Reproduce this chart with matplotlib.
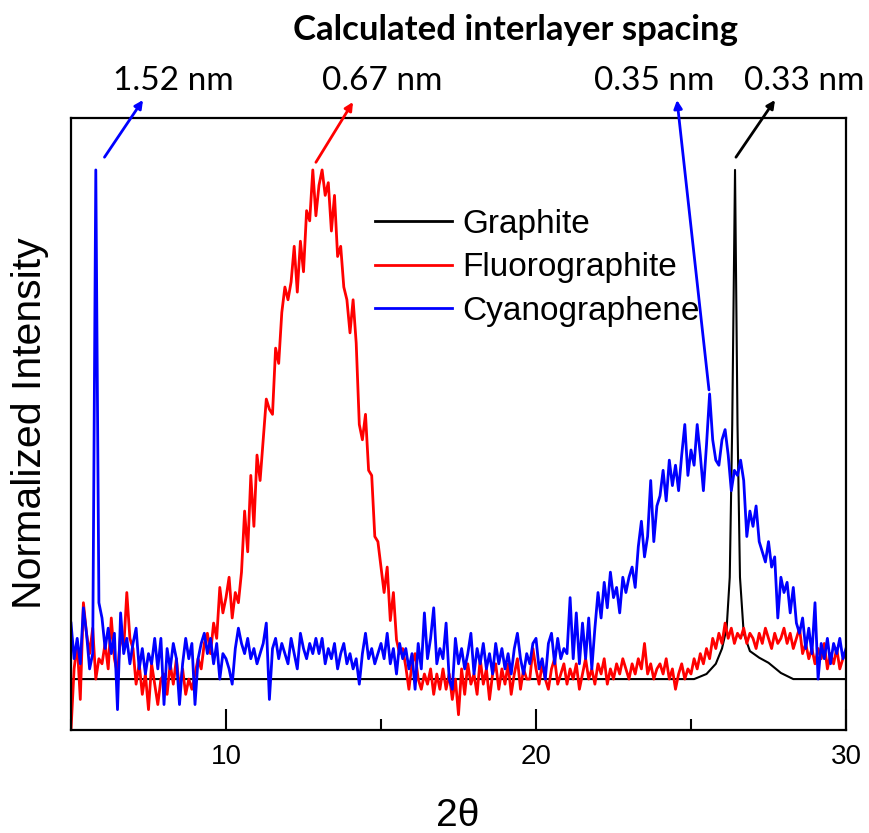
import numpy as np
import matplotlib
matplotlib.use("Agg")
import matplotlib.pyplot as plt
from matplotlib.ticker import MultipleLocator

# ---------------- data ----------------
theta_start = 5.0
theta_step = 0.1

graphite_x = [5.0, 25.1, 25.5, 25.8, 26.0, 26.15, 26.25, 26.33, 26.42, 26.5,
              26.58, 26.7, 26.9, 27.2, 27.5, 27.9, 28.3, 30.0]
graphite_y = [0.0, 0.0, 0.01, 0.03, 0.06, 0.10, 0.20, 0.50, 1.00, 0.50,
              0.20, 0.09, 0.055, 0.042, 0.032, 0.012, 0.0, 0.0]

fluorographite_y = [
    -0.10, 0.02, 0.07, -0.04, 0.15, 0.09, 0.05, 0.10, 0.00, 0.04,   # 5
    0.03, 0.07, 0.02, 0.12, 0.04, 0.01, 0.09, 0.06, 0.17, 0.08,     # 6
    0.06, -0.01, 0.03, -0.03, 0.01, -0.06, 0.03, -0.01, -0.05, 0.00,  # 7
    0.01, -0.03, 0.03, -0.01, 0.04, -0.02, 0.02, -0.03, 0.00, -0.02,  # 8
    0.01, 0.04, 0.02, 0.07, 0.09, 0.05, 0.11, 0.08, 0.18, 0.13,     # 9
    0.16, 0.20, 0.12, 0.17, 0.15, 0.21, 0.33, 0.25, 0.40, 0.30,     # 10
    0.44, 0.39, 0.47, 0.55, 0.53, 0.52, 0.65, 0.62, 0.72, 0.77,     # 11
    0.745, 0.78, 0.85, 0.76, 0.86, 0.80, 0.92, 0.90, 1.00, 0.91,    # 12
    0.97, 1.00, 0.95, 0.975, 0.88, 0.95, 0.83, 0.85, 0.77, 0.745,   # 13
    0.68, 0.745, 0.66, 0.50, 0.47, 0.52, 0.41, 0.40, 0.28, 0.27,    # 14
    0.22, 0.17, 0.22, 0.115, 0.17, 0.077, 0.05, 0.06, 0.024, -0.02,  # 15
    0.03, 0.05, 0.00, -0.02, 0.01, -0.01, 0.02, -0.03, 0.01, -0.02,  # 16
    0.02, -0.02, 0.01, -0.04, 0.00, -0.07, 0.02, -0.03, 0.03, -0.01,  # 17
    0.01, -0.03, 0.04, -0.01, 0.02, -0.04, 0.01, 0.03, -0.02, 0.02,  # 18
    -0.01, 0.03, -0.03, 0.01, 0.04, -0.02, 0.02, 0.00, 0.00, 0.06,  # 19
    0.02, -0.01, 0.03, 0.00, -0.02, 0.02, 0.04, -0.01, 0.01, 0.03,  # 20
    -0.01, 0.02, 0.00, 0.03, -0.02, 0.01, 0.04, 0.00, 0.02, -0.01,  # 21
    0.03, 0.01, 0.04, -0.01, 0.02, 0.00, 0.03, 0.01, 0.04, 0.02,    # 22
    0.00, 0.03, 0.01, 0.04, 0.02, 0.07, 0.01, 0.03, 0.00, 0.02,     # 23
    0.03, 0.01, 0.04, 0.00, 0.02, -0.02, 0.01, 0.03, 0.00, 0.02,    # 24
    0.01, 0.04, 0.02, 0.05, 0.03, 0.06, 0.04, 0.08, 0.06, 0.09,     # 25
    0.07, 0.11, 0.08, 0.10, 0.07, 0.09, 0.08, 0.10, 0.07, 0.09,     # 26
    0.08, 0.06, 0.09, 0.07, 0.10, 0.08, 0.06, 0.09, 0.07, 0.08,     # 27
    0.10, 0.07, 0.09, 0.06, 0.08, 0.10, 0.05, 0.07, 0.04, 0.06,     # 28
    0.03, 0.06, 0.04, 0.07, 0.02, 0.05, 0.03, 0.06, 0.02, 0.04,     # 29
    0.05,                                                           # 30
]

cyanographene_y = [
    0.11, 0.04, 0.08, 0.03, 0.14, 0.09, 0.02, 0.05, 1.00, 0.15,     # 5
    0.12, 0.06, 0.10, 0.05, 0.09, -0.06, 0.13, 0.05, 0.08, 0.03,    # 6
    0.07, 0.10, 0.02, 0.06, 0.01, 0.05, 0.03, 0.08, 0.02, 0.08,     # 7
    -0.05, 0.06, 0.02, 0.07, 0.04, -0.05, 0.03, 0.08, 0.04, 0.07,   # 8
    -0.05, 0.04, 0.07, 0.09, 0.05, 0.08, 0.03, 0.07, 0.00, 0.05,    # 9
    0.04, 0.02, -0.01, 0.06, 0.10, 0.07, 0.05, 0.08, 0.04, 0.06,    # 10
    0.03, 0.05, 0.07, 0.11, -0.04, 0.06, 0.08, 0.04, 0.07, 0.05,    # 11
    0.03, 0.08, 0.05, 0.02, 0.09, 0.06, 0.04, 0.07, 0.05, 0.08,     # 12
    0.05, 0.08, 0.03, 0.06, 0.04, 0.07, 0.02, 0.05, 0.07, 0.03,     # 13
    0.05, 0.02, 0.04, -0.01, 0.05, 0.09, 0.04, 0.06, 0.03, 0.05,    # 14
    0.07, 0.04, 0.09, 0.03, 0.06, 0.01, 0.07, 0.04, 0.06, 0.02,     # 15
    0.05, -0.02, 0.07, 0.02, 0.13, 0.04, 0.08, 0.14, 0.03, 0.06,    # 16
    0.04, 0.11, 0.00, -0.02, 0.08, 0.03, 0.06, 0.02, 0.05, 0.09,    # 17
    0.01, 0.06, 0.03, 0.07, 0.02, 0.05, 0.01, 0.07, 0.03, 0.06,     # 18
    0.02, 0.05, 0.01, 0.06, 0.09, 0.04, 0.01, 0.05, 0.03, 0.07,     # 19
    0.08, 0.02, 0.04, 0.00, 0.07, 0.09, 0.03, 0.08, 0.04, 0.06,     # 20
    0.05, 0.16, 0.04, 0.13, 0.03, 0.11, 0.04, 0.12, 0.02, 0.10,     # 21
    0.17, 0.12, 0.19, 0.14, 0.21, 0.16, 0.18, 0.13, 0.20, 0.17,     # 22
    0.20, 0.22, 0.18, 0.26, 0.31, 0.24, 0.28, 0.39, 0.27, 0.34,     # 23
    0.36, 0.41, 0.35, 0.43, 0.38, 0.42, 0.37, 0.44, 0.50, 0.40,     # 24
    0.45, 0.42, 0.50, 0.44, 0.37, 0.46, 0.56, 0.47, 0.43, 0.42,     # 25
    0.47, 0.49, 0.44, 0.37, 0.41, 0.40, 0.43, 0.39, 0.28, 0.33,     # 26
    0.30, 0.34, 0.27, 0.25, 0.23, 0.27, 0.22, 0.24, 0.12, 0.20,     # 27
    0.17, 0.19, 0.13, 0.18, 0.11, 0.09, 0.12, 0.06, 0.10, 0.05,     # 28
    0.15, 0.00, 0.07, 0.04, 0.08, 0.03, 0.07, 0.05, 0.08, 0.04,     # 29
    0.06,                                                           # 30
]

series_labels = ["Graphite", "Fluorographite", "Cyanographene"]
series_colors = ["black", "#ff0000", "#0000ff"]

spacing_labels = ["1.52 nm", "0.67 nm", "0.35 nm", "0.33 nm"]
spacing_colors = ["#0000ff", "#ff0000", "#0000ff", "black"]
# arrow tail (data coords, near each peak), arrow tip and label centre (figure px)
spacing_tail_x = [6.08, 12.90, 25.58, 26.45]
spacing_tail_y = [1.025, 1.015, 0.568, 1.025]
spacing_head_px = [(143, 100), (353, 102), (677, 100), (775, 100)]
spacing_text_px = [173, 382, 654, 804]

xticks_major = [10, 20, 30]

# ---------------- figure ----------------
W, H = 870, 833
fig = plt.figure(figsize=(W / 100, H / 100), dpi=100)
ax = fig.add_axes([71 / W, 1 - 730 / H, (846 - 71) / W, (730 - 118) / H])

theta = theta_start + theta_step * np.arange(len(cyanographene_y))

ax.plot(graphite_x, graphite_y, color=series_colors[0], lw=1.5, label=series_labels[0])
ax.plot(theta, fluorographite_y, color=series_colors[1], lw=2.0, label=series_labels[1])
ax.plot(theta, cyanographene_y, color=series_colors[2], lw=2.0, label=series_labels[2])

ax.set_xlim(5, 30)
ax.set_ylim(-0.1, 1.102)
ax.set_yticks([])
ax.set_xticks(xticks_major)
ax.xaxis.set_minor_locator(MultipleLocator(5))
ax.tick_params(axis="x", which="major", direction="in", length=15, width=1.5,
               labelsize=20, pad=10)
ax.tick_params(axis="x", which="minor", direction="in", length=8, width=1.5)
for lab in ax.get_xticklabels():
    lab.set_fontfamily("Liberation Sans")
for sp in ax.spines.values():
    sp.set_linewidth(1.6)

# axis labels
fig.text(458 / W, 1 - 816 / H, "2θ", ha="center", va="center",
         fontsize=28, family="Liberation Sans")
fig.text(30 / W, 1 - 423 / H, "Normalized Intensity", ha="center", va="center",
         rotation=90, fontsize=29.5, family="Liberation Sans")

leg = ax.legend(loc="upper left", bbox_to_anchor=(375 / W, 1 - 209 / H),
                bbox_transform=fig.transFigure, frameon=False,
                prop={"family": "Liberation Sans", "size": 24},
                handlelength=2.3, handletextpad=0.33, labelspacing=0.37,
                borderpad=0, borderaxespad=0)
for line in leg.get_lines():
    line.set_linewidth(2.0)

# title
fig.text(516 / W, 1 - 40 / H, "Calculated interlayer spacing", ha="center",
         va="baseline", fontsize=25, fontweight="bold", family="Lato")

# spacing labels with arrows
for lab, col, tx, ty, head, tpx in zip(spacing_labels, spacing_colors,
                                       spacing_tail_x, spacing_tail_y,
                                       spacing_head_px, spacing_text_px):
    fig.text(tpx / W, 1 - 90 / H, lab, ha="center", va="baseline",
             fontsize=24, family="Lato")
    ax.annotate("", xy=(head[0] / W, 1 - head[1] / H), xycoords="figure fraction",
                xytext=(tx, ty), textcoords="data",
                arrowprops=dict(arrowstyle="-|>", color=col, lw=2,
                                mutation_scale=12, shrinkA=0, shrinkB=0),
                annotation_clip=False)

fig.savefig("out.png", dpi=100)
